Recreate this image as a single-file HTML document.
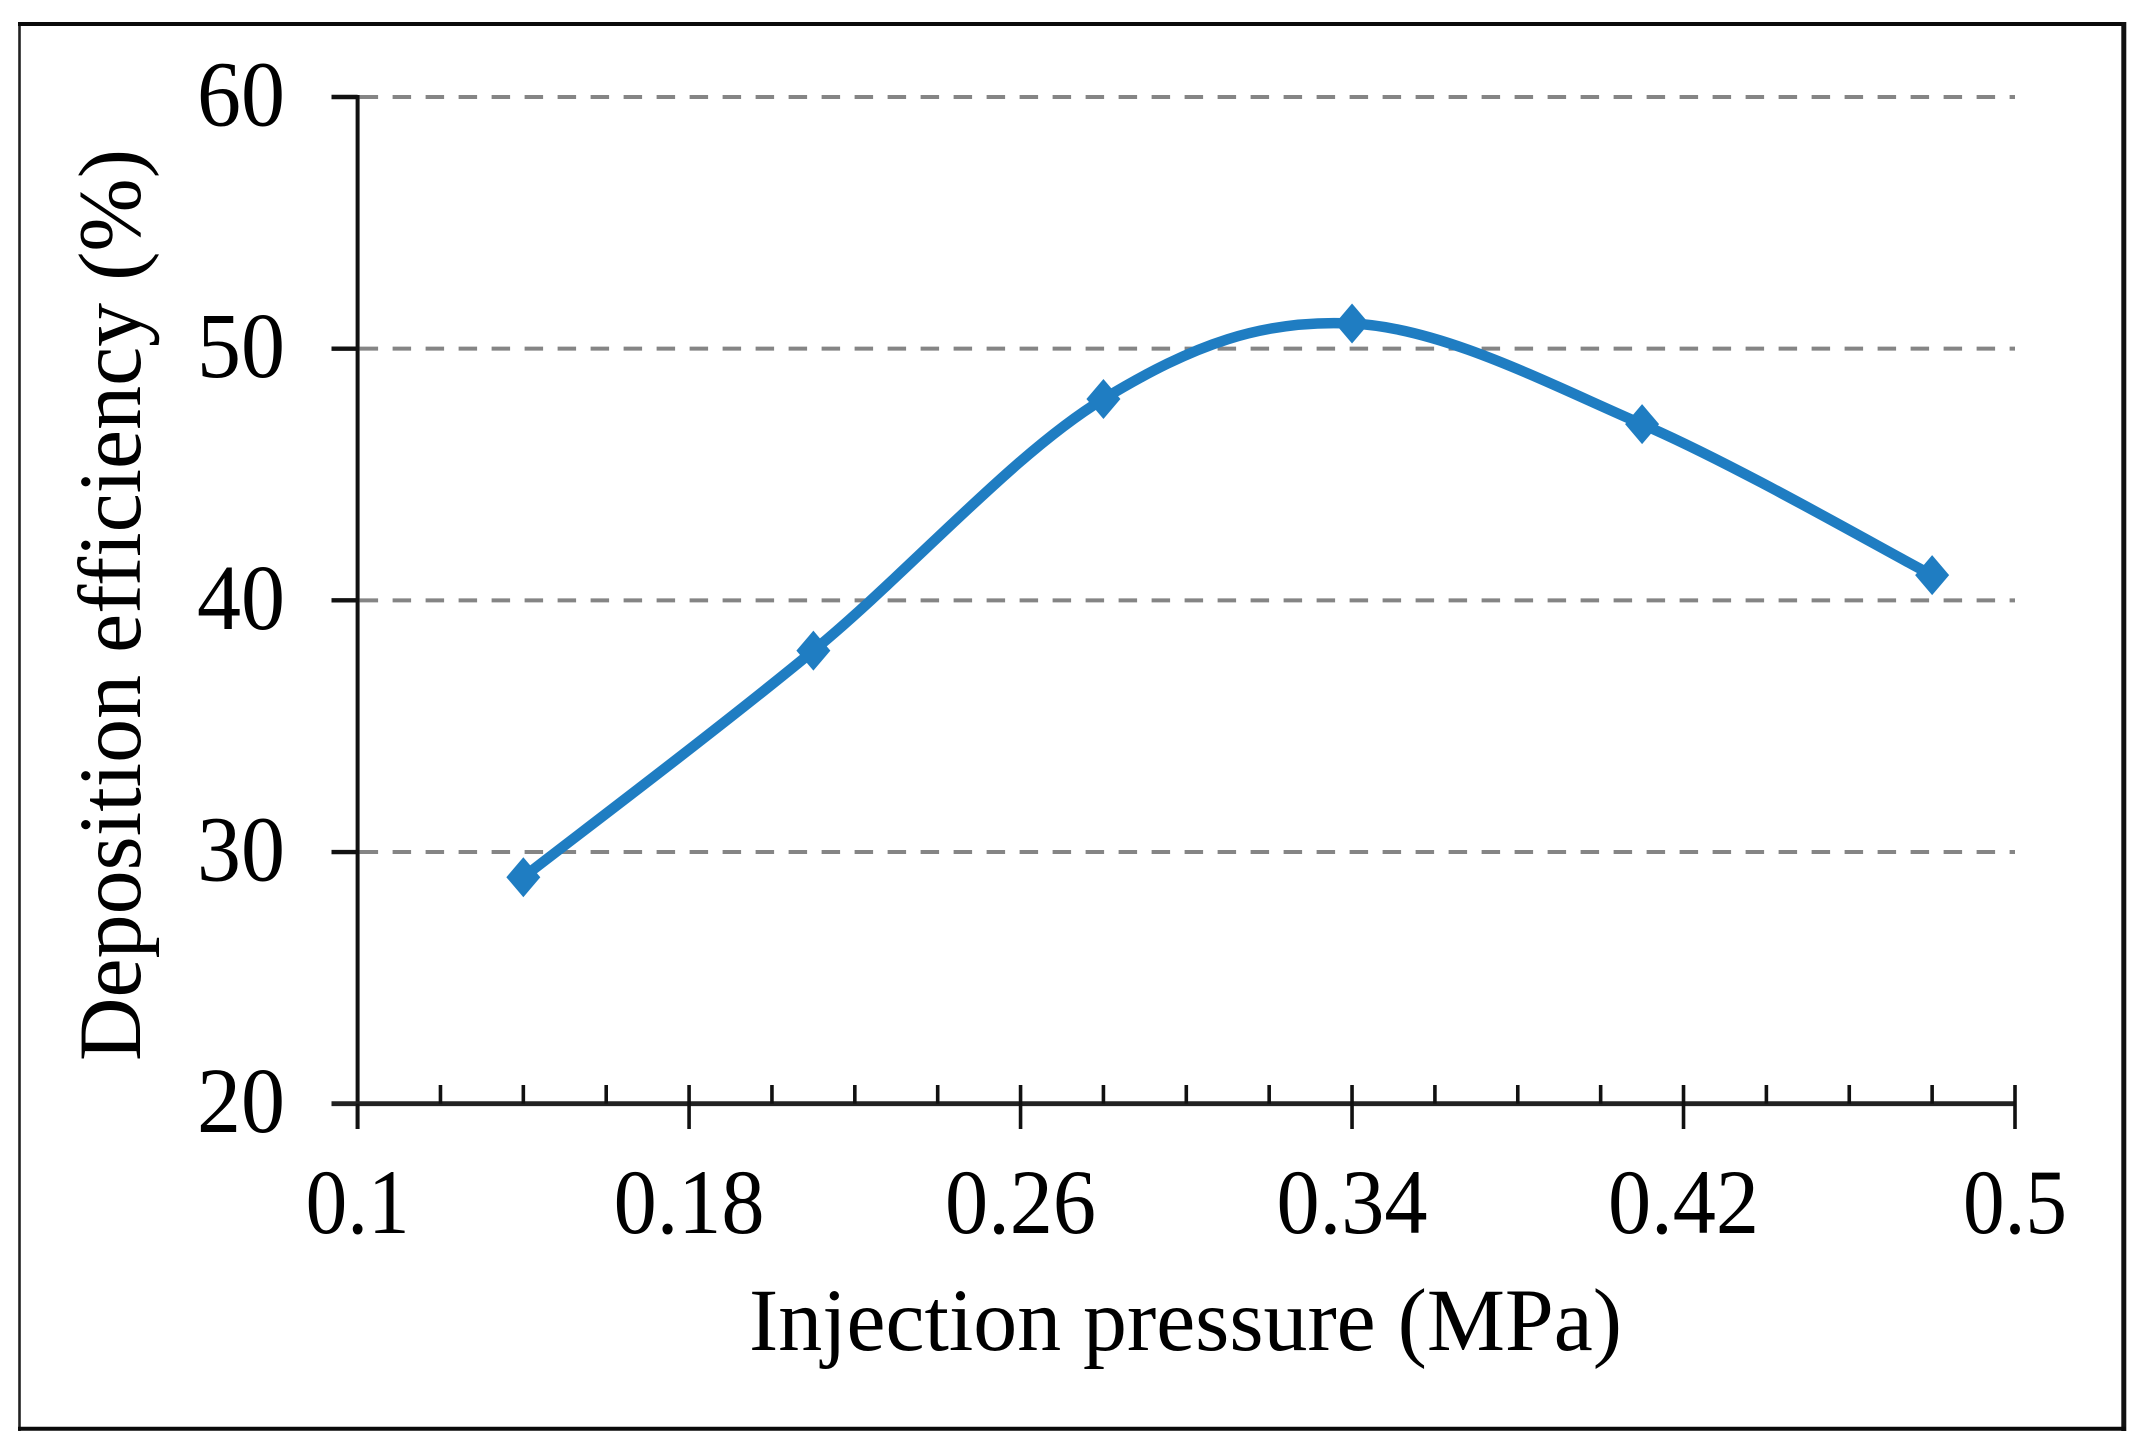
<!DOCTYPE html>
<html lang="en">
<head>
<meta charset="utf-8">
<title>Deposition efficiency vs injection pressure</title>
<style>
  html, body { margin: 0; padding: 0; background: #fff; }
  body { width: 2146px; height: 1455px; overflow: hidden; }
  svg { display: block; }
  text { font-family: "Liberation Serif", serif; fill: #000; }
</style>
</head>
<body>
<svg id="chart" xmlns="http://www.w3.org/2000/svg" width="2146" height="1455" viewBox="0 0 2146 1455">
  <line x1="19.5" x2="19.5" y1="22" y2="1431" stroke="#222" stroke-width="2.6"/>
  <line x1="18" x2="2126" y1="24" y2="24" stroke="#0a0a0a" stroke-width="4"/>
  <line x1="2123.8" x2="2123.8" y1="22" y2="1431" stroke="#111" stroke-width="5"/>
  <line x1="18" x2="2126" y1="1428.7" y2="1428.7" stroke="#0a0a0a" stroke-width="4"/>
  <g id="grid"></g>
  <g id="axes"></g>
  <g id="ticklabels"></g>
  <text transform="translate(140,1061) rotate(-90)" font-size="89" textLength="912" lengthAdjust="spacingAndGlyphs">Deposition efficiency (%)</text>
  <text x="749" y="1350" font-size="89" textLength="873" lengthAdjust="spacingAndGlyphs">Injection pressure (MPa)</text>
  <g id="series"></g>
</svg>
<script>
const pressures = [0.14, 0.21, 0.28, 0.34, 0.41, 0.48];
const efficiencies = [29, 38, 48, 51, 47, 41];
const yTicks = [20, 30, 40, 50, 60];
const xTickLabels = ["0.1", "0.18", "0.26", "0.34", "0.42", "0.5"];
const xMajorStep = 0.08;
const xMinorStep = 0.02;

const NS = 'http://www.w3.org/2000/svg';
const xMin = 0.1, xMax = 0.5, yMin = 20, yMax = 60;
const plot = { left: 357.6, right: 2015, top: 97, bottom: 1103.7 };
const xScale = v => plot.left + (v - xMin) / (xMax - xMin) * (plot.right - plot.left);
const yScale = v => plot.bottom - (v - yMin) / (yMax - yMin) * (plot.bottom - plot.top);

function make(tag, parent, attrs) {
  const el = document.createElementNS(NS, tag);
  for (const k in attrs) el.setAttribute(k, attrs[k]);
  parent.appendChild(el);
  return el;
}

const gridG = document.getElementById('grid');
const axesG = document.getElementById('axes');
const labelG = document.getElementById('ticklabels');
const seriesG = document.getElementById('series');

// horizontal dashed gridlines and y ticks
yTicks.forEach(v => {
  const y = yScale(v);
  if (v !== yMin) {
    const g = make('line', gridG, { x1: plot.left + 2, x2: 2015, y1: y, y2: y, stroke: '#858585', 'stroke-width': 4, 'stroke-dasharray': '18.5 14.5' });
    
    
  }
  const t = make('line', axesG, { x1: 331.5, x2: plot.left, y1: y, y2: y, stroke: '#111', 'stroke-width': 4.4 });
  
  
  const l = make('text', labelG, { x: 285, y: y + 28.5, 'font-size': 93, 'text-anchor': 'end', textLength: 88, lengthAdjust: 'spacingAndGlyphs' });
  l.textContent = String(v);
  
  
});

// axis lines
const yAxis = make('line', axesG, { x1: plot.left, x2: plot.left, y1: plot.top - 2, y2: 1129, stroke: '#111', 'stroke-width': 4 });


const xAxis = make('line', axesG, { x1: 331.5, x2: plot.right + 1, y1: plot.bottom, y2: plot.bottom, stroke: '#222', 'stroke-width': 4.8 });



// minor ticks
const minorCount = Math.round((xMax - xMin) / xMinorStep);
for (let i = 1; i <= minorCount; i++) {
  if (i % 4 === 0) continue;
  const x = xScale(xMin + i * xMinorStep);
  const m = make('line', axesG, { x1: x, x2: x, y1: 1085, y2: plot.bottom, stroke: '#111', 'stroke-width': 3.6 });
  
  
}

// major ticks and labels
xTickLabels.forEach((txt, i) => {
  const x = xScale(xMin + i * xMajorStep);
  const t = make('line', axesG, { x1: x, x2: x, y1: i > 0 ? 1085 : plot.bottom, y2: 1129, stroke: '#111', 'stroke-width': 3.6 });
  
  
  const l = make('text', labelG, { x: x, y: 1233, 'font-size': 92, 'text-anchor': 'middle', textLength: txt.length === 3 ? 104 : 151, lengthAdjust: 'spacingAndGlyphs' });
  l.textContent = txt;
  
  
});

// smoothed series (Excel-like cubic Bezier)
const pts = pressures.map((p, i) => [xScale(p), yScale(efficiencies[i])]);
let d = 'M' + pts[0][0] + ' ' + pts[0][1];
const smooth = 0.167;
for (let i = 0; i < pts.length - 1; i++) {
  const p0 = pts[Math.max(i - 1, 0)], p1 = pts[i], p2 = pts[i + 1], p3 = pts[Math.min(i + 2, pts.length - 1)];
  const c1 = [p1[0] + (p2[0] - p0[0]) * smooth, p1[1] + (p2[1] - p0[1]) * smooth];
  const c2 = [p2[0] - (p3[0] - p1[0]) * smooth, p2[1] - (p3[1] - p1[1]) * smooth];
  d += ' C' + c1[0] + ' ' + c1[1] + ' ' + c2[0] + ' ' + c2[1] + ' ' + p2[0] + ' ' + p2[1];
}
const line = make('path', seriesG, { d: d, fill: 'none', stroke: '#1f7dc2', 'stroke-width': 10.5, 'stroke-linejoin': 'round' });



// diamond markers
pts.forEach((pt, i) => {
  const [x, y] = pt;
  const mk = make('polygon', seriesG, {
    points: [[x, y - 20], [x + 17, y], [x, y + 20], [x - 17, y]].map(q => q.join(',')).join(' '),
    fill: '#1f7dc2'
  });
  
  
});
</script>
</body>
</html>
